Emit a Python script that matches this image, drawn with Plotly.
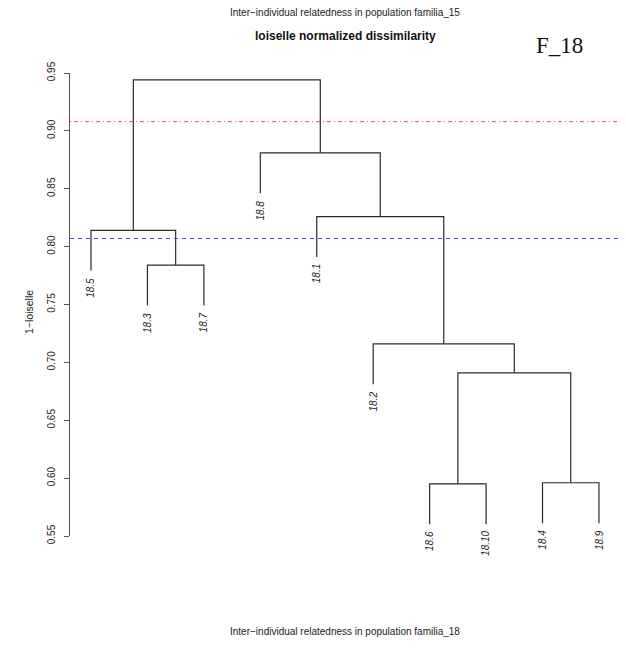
import plotly.graph_objects as go

# Leaf labels in dendrogram order
leaf_labels = ["18.5", "18.3", "18.7", "18.8", "18.1", "18.2", "18.6", "18.10", "18.4", "18.9"]

# Merge table (hclust style): negative = leaf (1-based position), positive = earlier merge
merge_a = [-7, -9, 1, -6, -2, -1, -5, -4, 6]
merge_b = [-8, -10, 2, 3, -3, 5, 4, 7, 8]
merge_height = [0.595, 0.596, 0.691, 0.716, 0.784, 0.814, 0.826, 0.881, 0.944]

# Cut thresholds
red_cut = 0.908
blue_cut = 0.807

# Y axis ticks
y_ticks = [0.55, 0.60, 0.65, 0.70, 0.75, 0.80, 0.85, 0.90, 0.95]

hang = 0.1 * (max(merge_height) - min(merge_height))

# Compute x centre of each merge
merge_x = []
def node_x(n):
    return float(-n) if n < 0 else merge_x[n - 1]

for a, b in zip(merge_a, merge_b):
    merge_x.append((node_x(a) + node_x(b)) / 2)

xs, ys = [], []
leaf_ends = {}
for i, (a, b, h) in enumerate(zip(merge_a, merge_b, merge_height)):
    xa, xb = node_x(a), node_x(b)
    ya = h - hang if a < 0 else merge_height[a - 1]
    yb = h - hang if b < 0 else merge_height[b - 1]
    if a < 0:
        leaf_ends[-a] = ya
    if b < 0:
        leaf_ends[-b] = yb
    xs += [xa, xa, xb, xb, None]
    ys += [ya, h, h, yb, None]

fig = go.Figure()
fig.add_trace(go.Scatter(x=xs, y=ys, mode="lines",
                         line=dict(color="#2b2b2b", width=1.2),
                         hoverinfo="skip", showlegend=False))

# Plot-area geometry (pixels)
W, H = 626, 652
L, R, T, B = 70, 6, 73, 116
pw, ph = W - L - R, H - T - B
spacing = 56.44
first_leaf_px = 91
x0 = 1 - (first_leaf_px - L) / spacing
x1 = x0 + pw / spacing

def px_to_paper_x(px):
    return (px - L) / pw

def py_to_paper_y(py):
    return (H - B - py) / ph

annotations = []
for i, lab in enumerate(leaf_labels, start=1):
    annotations.append(dict(
        x=i, y=leaf_ends[i], xref="x", yref="y", text=lab, showarrow=False,
        textangle=-90, xanchor="center", yanchor="top", yshift=-5,
        font=dict(family="Liberation Sans, Arial", size=10, color="#222222", style="italic")))

annotations += [
    dict(x=px_to_paper_x(345), y=py_to_paper_y(13), xref="paper", yref="paper",
         text="Inter\u2212individual relatedness in population familia_15",
         showarrow=False, xanchor="center", yanchor="middle",
         font=dict(family="Liberation Sans, Arial", size=10, color="#222222")),
    dict(x=px_to_paper_x(345), y=py_to_paper_y(36), xref="paper", yref="paper",
         text="<b>loiselle normalized dissimilarity</b>",
         showarrow=False, xanchor="center", yanchor="middle",
         font=dict(family="Liberation Sans, Arial", size=12, color="#111111")),
    dict(x=px_to_paper_x(559), y=py_to_paper_y(45), xref="paper", yref="paper",
         text="F_18", showarrow=False, xanchor="center", yanchor="middle",
         font=dict(family="Liberation Serif, Times New Roman", size=23, color="#111111")),
    dict(x=px_to_paper_x(345), y=py_to_paper_y(631), xref="paper", yref="paper",
         text="Inter\u2212individual relatedness in population familia_18",
         showarrow=False, xanchor="center", yanchor="middle",
         font=dict(family="Liberation Sans, Arial", size=10, color="#222222")),
    dict(x=px_to_paper_x(29), y=py_to_paper_y(312), xref="paper", yref="paper",
         text="1\u2212loiselle", showarrow=False, textangle=-90,
         xanchor="center", yanchor="middle",
         font=dict(family="Liberation Sans, Arial", size=10.5, color="#222222")),
]

shapes = [
    dict(type="line", xref="paper", yref="y", x0=0, x1=px_to_paper_x(619),
         y0=red_cut, y1=red_cut,
         line=dict(color="#ff4a4a", width=1, dash="1px,3px,4px,3px")),
    dict(type="line", xref="paper", yref="y", x0=0, x1=px_to_paper_x(619),
         y0=blue_cut, y1=blue_cut,
         line=dict(color="#4d4dff", width=1, dash="4px,4px")),
]

fig.update_layout(
    width=W, height=H,
    margin=dict(l=L, r=R, t=T, b=B),
    paper_bgcolor="white", plot_bgcolor="white",
    xaxis=dict(range=[x0, x1], visible=False, fixedrange=True),
    yaxis=dict(range=[0.55, 0.95], tickvals=y_ticks,
               ticktext=[f"{v:.2f}" for v in y_ticks],
               tickangle=-90, ticks="outside", ticklen=5, tickcolor="#555555",
               ticklabelstandoff=5,
               showline=True, linecolor="#555555", linewidth=1,
               showgrid=False, zeroline=False,
               tickfont=dict(family="Liberation Sans, Arial", size=10, color="#222222")),
    annotations=annotations,
    shapes=shapes,
)

fig.write_html("out.html")
